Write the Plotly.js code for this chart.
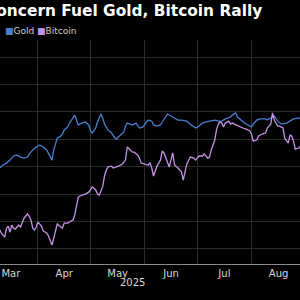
<!DOCTYPE html>
<html>
<head>
<meta charset="utf-8">
<script src="https://cdn.plot.ly/plotly-3.0.1.min.js"></script>
<style>html,body{margin:0;padding:0;background:#000;}#chart{width:300px;height:300px;}</style>
</head>
<body>
<div id="chart"></div>
<script>
// Year-to-date change, %
const goldDates = ["2025-03-10","2025-03-12","2025-03-14","2025-03-16","2025-03-18","2025-03-20","2025-03-22","2025-03-24","2025-03-26","2025-03-27","2025-03-29","2025-03-31","2025-04-02","2025-04-04","2025-04-06","2025-04-08","2025-04-09","2025-04-10","2025-04-12","2025-04-14","2025-04-15","2025-04-16","2025-04-18","2025-04-19","2025-04-21","2025-04-22","2025-04-23","2025-04-24","2025-04-26","2025-04-28","2025-04-30","2025-05-01","2025-05-02","2025-05-04","2025-05-05","2025-05-07","2025-05-08","2025-05-09","2025-05-11","2025-05-13","2025-05-15","2025-05-16","2025-05-18","2025-05-20","2025-05-21","2025-05-22","2025-05-25","2025-05-27","2025-05-29","2025-05-31","2025-06-02","2025-06-03","2025-06-05","2025-06-06","2025-06-08","2025-06-10","2025-06-11","2025-06-13","2025-06-14","2025-06-16","2025-06-18","2025-06-20","2025-06-22","2025-06-25","2025-06-27","2025-06-29","2025-06-30","2025-07-02","2025-07-04","2025-07-06","2025-07-08","2025-07-11","2025-07-13","2025-07-15","2025-07-17","2025-07-20","2025-07-21","2025-07-23","2025-07-24","2025-07-26","2025-07-28","2025-07-30","2025-08-01","2025-08-02","2025-08-04","2025-08-06","2025-08-09","2025-08-10","2025-08-13","2025-08-14","2025-08-16","2025-08-18","2025-08-21","2025-08-23","2025-08-25","2025-08-28","2025-08-29"];
const goldValues = [9.5,10.6,11.3,12.4,13.9,14.2,13.5,13.1,13.5,14.6,16.1,17.2,17.9,17.2,16.1,13.5,12.4,16.1,20.4,21.2,21.9,23.4,24.5,25.9,28.1,28.8,27.0,25.2,25.9,26.3,25.2,23.0,22.3,24.1,26.3,29.2,27.7,25.5,23.4,22.3,20.4,20.1,21.5,22.6,24.8,25.9,25.2,25.9,24.1,24.5,26.3,27.0,26.6,25.2,24.8,25.2,26.3,28.5,29.2,28.5,27.7,27.0,27.0,26.6,25.5,24.5,24.1,24.8,25.9,26.3,26.6,27.0,26.6,26.6,27.4,28.1,28.8,29.6,28.1,27.0,25.9,25.2,24.5,25.5,27.0,27.4,27.4,27.0,28.1,28.5,26.6,25.5,25.9,26.6,27.4,27.7,27.7];

const btcDates = ["2025-03-10","2025-03-11","2025-03-13","2025-03-14","2025-03-15","2025-03-16","2025-03-17","2025-03-18","2025-03-19","2025-03-21","2025-03-22","2025-03-24","2025-03-26","2025-03-27","2025-03-28","2025-03-29","2025-03-30","2025-03-31","2025-04-01","2025-04-02","2025-04-03","2025-04-04","2025-04-06","2025-04-07","2025-04-08","2025-04-09","2025-04-10","2025-04-11","2025-04-12","2025-04-14","2025-04-15","2025-04-16","2025-04-18","2025-04-19","2025-04-21","2025-04-22","2025-04-23","2025-04-24","2025-04-25","2025-04-27","2025-04-28","2025-04-30","2025-05-01","2025-05-02","2025-05-04","2025-05-05","2025-05-06","2025-05-08","2025-05-09","2025-05-10","2025-05-11","2025-05-13","2025-05-14","2025-05-16","2025-05-17","2025-05-19","2025-05-21","2025-05-22","2025-05-24","2025-05-25","2025-05-26","2025-05-28","2025-05-29","2025-05-30","2025-06-01","2025-06-03","2025-06-04","2025-06-05","2025-06-06","2025-06-07","2025-06-08","2025-06-10","2025-06-11","2025-06-12","2025-06-13","2025-06-14","2025-06-15","2025-06-17","2025-06-18","2025-06-20","2025-06-22","2025-06-23","2025-06-24","2025-06-25","2025-06-27","2025-06-29","2025-06-30","2025-07-02","2025-07-04","2025-07-05","2025-07-07","2025-07-08","2025-07-09","2025-07-11","2025-07-12","2025-07-13","2025-07-14","2025-07-15","2025-07-16","2025-07-17","2025-07-19","2025-07-20","2025-07-21","2025-07-23","2025-07-25","2025-07-27","2025-07-29","2025-07-31","2025-08-01","2025-08-02","2025-08-04","2025-08-05","2025-08-07","2025-08-09","2025-08-10","2025-08-12","2025-08-13","2025-08-14","2025-08-16","2025-08-17","2025-08-19","2025-08-20","2025-08-22","2025-08-23","2025-08-24","2025-08-25","2025-08-26","2025-08-28","2025-08-29"];
const btcValues = [-12.8,-14.2,-15.7,-12.4,-11.7,-13.9,-11.3,-12.4,-12.8,-11.3,-12.0,-8.8,-7.3,-8.0,-9.5,-12.4,-13.1,-12.0,-10.2,-10.9,-11.7,-13.5,-14.2,-15.3,-16.8,-18.6,-16.1,-13.5,-10.9,-12.0,-12.4,-10.6,-10.6,-10.2,-9.5,-7.7,-4.0,-1.1,-0.7,-0.4,0.0,0.7,1.8,2.6,1.5,0.0,-0.4,2.9,6.6,8.8,9.9,10.2,9.5,9.9,10.2,10.9,12.4,17.2,15.7,15.3,15.3,14.2,13.1,11.3,10.9,10.6,11.3,9.5,6.6,8.8,10.2,12.4,15.7,15.0,13.1,11.3,9.9,15.0,10.6,9.5,8.0,5.1,8.0,10.9,13.5,13.1,12.4,13.9,13.9,14.6,13.1,13.5,16.1,19.7,23.4,25.5,26.3,25.9,24.5,25.9,26.6,25.5,25.9,25.2,24.8,24.1,23.7,23.0,21.9,19.3,19.7,21.2,21.9,22.3,24.1,25.5,29.6,27.0,24.8,24.8,24.1,20.4,18.6,21.5,21.2,19.3,16.4,16.8,17.5];

const seriesNames = ["Gold", "Bitcoin"];
const titleText = "Concern Fuel Gold, Bitcoin Rally";
const yearLabel = "2025";

const goldColor = "#4a80d0";
const btcColor = "#c592e6";

const traces = [
  {x: goldDates, y: goldValues, name: seriesNames[0], type: "scatter", mode: "lines",
   line: {color: goldColor, width: 1.3}},
  {x: btcDates, y: btcValues, name: seriesNames[1], type: "scatter", mode: "lines",
   line: {color: btcColor, width: 1.3}}
];

const layout = {
  width: 300, height: 300,
  paper_bgcolor: "#000", plot_bgcolor: "#000",
  margin: {l: 0, r: 0, t: 40, b: 36},
  showlegend: false,
  font: {family: "'DejaVu Sans', sans-serif", color: "#cfcfcf", size: 10},
  xaxis: {
    type: "date",
    range: ["2025-03-10 07:00", "2025-08-28 17:00"],
    dtick: "M1", tick0: "2025-01-01",
    ticklabelmode: "period", tickformat: "%b",
    showgrid: true, gridcolor: "#2b2b2b", gridwidth: 1,
    ticks: "", showline: true, linecolor: "#8a8a8a", linewidth: 1,
    zeroline: false,
    tickfont: {size: 10, color: "#d8d8d8"}
  },
  yaxis: {
    range: [-25.5, 56.2], dtick: 10, tick0: 0,
    showgrid: true, gridcolor: "#2b2b2b", gridwidth: 1,
    showticklabels: false, ticks: "", zeroline: false, showline: false
  },
  annotations: [
    {xref: "paper", yref: "paper", x: 264/300, y: 1 + (40-11)/224, xanchor: "right", yanchor: "middle",
     text: "<b>" + titleText + "</b>", showarrow: false,
     font: {size: 15.4, color: "#ffffff", family: "'DejaVu Sans', sans-serif"}},
    {xref: "paper", yref: "paper", x: 3/300, y: 1 + (40-31.5)/224, xanchor: "left", yanchor: "middle",
     text: '<span style="color:' + goldColor + '">■</span>' + seriesNames[0], showarrow: false,
     font: {size: 9, color: "#cfcfcf"}},
    {xref: "paper", yref: "paper", x: 35/300, y: 1 + (40-31.5)/224, xanchor: "left", yanchor: "middle",
     text: '<span style="color:' + btcColor + '">■</span>' + seriesNames[1], showarrow: false,
     font: {size: 9, color: "#cfcfcf"}},
    {xref: "paper", yref: "paper", x: 132/300, y: -(282-264)/224, xanchor: "center", yanchor: "middle",
     text: yearLabel, showarrow: false, font: {size: 10, color: "#d8d8d8"}}
  ]
};

Plotly.newPlot("chart", traces, layout, {staticPlot: true, displayModeBar: false});
</script>
</body>
</html>
